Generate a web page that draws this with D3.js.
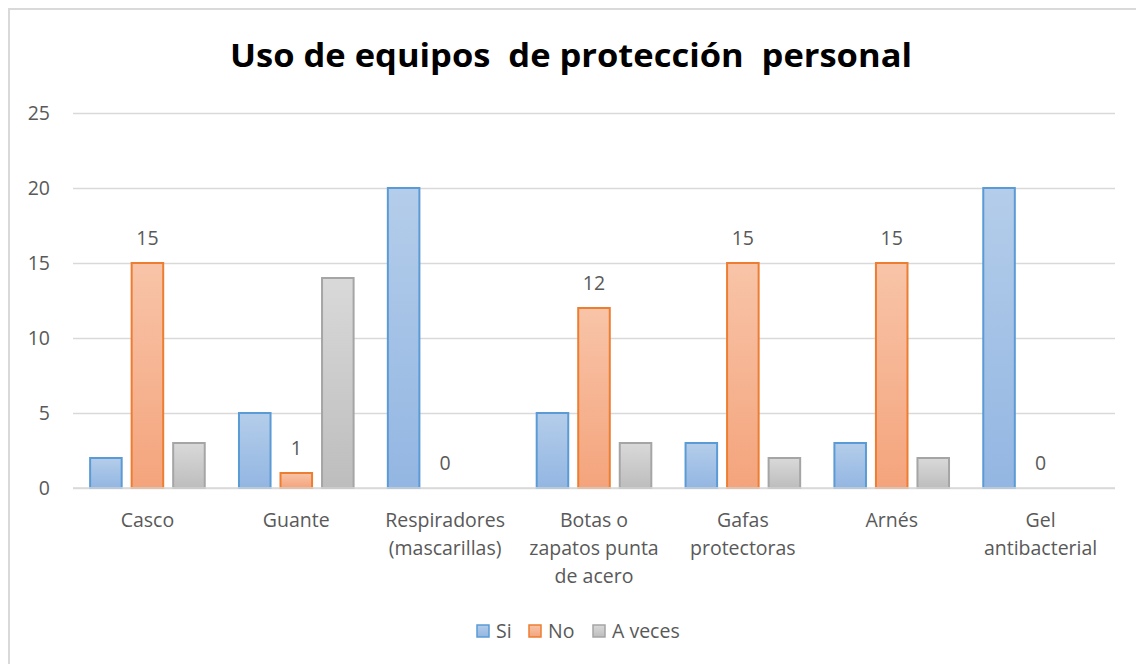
<!doctype html>
<html>
<head>
<meta charset="utf-8">
<style>
  body { margin: 0; background: #fff; }
  svg text { font-family: "Open Sans", "Noto Sans", sans-serif; }
</style>
</head>
<body>
<svg id="chart" width="1136" height="664"></svg>
<script src="https://cdn.jsdelivr.net/npm/d3@7"></script>
<script>
const categories = [
  ["Casco"],
  ["Guante"],
  ["Respiradores", "(mascarillas)"],
  ["Botas o", "zapatos punta", "de acero"],
  ["Gafas", "protectoras"],
  ["Arnés"],
  ["Gel", "antibacterial"]
];
const seriesNames = ["Si", "No", "A veces"];
const si = [2, 5, 20, 5, 3, 3, 20];
const no = [15, 1, 0, 12, 15, 15, 0];
const aVeces = [3, 14, 0, 3, 2, 2, 0];
const yTicks = [0, 5, 10, 15, 20, 25];

const width = 1136, height = 664;
const margin = { top: 113, right: 21, bottom: 176, left: 73 };
const fontSize = '19.5px';

const svg = d3.select('#chart');

// chart frame (right and bottom edges fall outside the picture)
svg.append('rect')
  .attr('x', 9).attr('y', 9)
  .attr('width', width).attr('height', height)
  .attr('fill', '#fff').attr('stroke', '#d9d9d9').attr('stroke-width', 2);

const colors = [
  { top: '#b4cdea', bottom: '#93b6e2', stroke: '#5b9bd5' },
  { top: '#f8c4a8', bottom: '#f4a47c', stroke: '#ed7d31' },
  { top: '#d9d9d9', bottom: '#bdbdbd', stroke: '#a5a5a5' }
];

const defs = svg.append('defs');
colors.forEach((c, i) => {
  const g = defs.append('linearGradient')
    .attr('id', 'grad' + i)
    .attr('x1', 0).attr('y1', 0).attr('x2', 0).attr('y2', 1);
  g.append('stop').attr('offset', '0%').attr('stop-color', c.top);
  g.append('stop').attr('offset', '100%').attr('stop-color', c.bottom);
});

const x0 = d3.scaleBand()
  .domain(d3.range(categories.length))
  .range([margin.left, width - margin.right])
  .paddingInner(0.23)
  .paddingOuter(0.115);

const x1 = d3.scaleBand()
  .domain(d3.range(seriesNames.length))
  .range([0, x0.bandwidth()])
  .paddingInner(0.24);

const y = d3.scaleLinear()
  .domain([0, 25])
  .range([height - margin.bottom, margin.top]);

// gridlines + y labels
const yAxis = d3.axisLeft(y)
  .tickValues(yTicks)
  .tickSize(-(width - margin.left - margin.right))
  .tickPadding(23);

const gy = svg.append('g')
  .attr('transform', `translate(${margin.left},0)`)
  .call(yAxis);
gy.select('.domain').remove();
gy.selectAll('.tick line').attr('stroke', '#d9d9d9').attr('stroke-width', 1.5);
gy.selectAll('.tick text')
  .attr('fill', '#595959')
  .style('font-size', fontSize);

// bars
const values = [si, no, aVeces];
const seriesG = svg.append('g').selectAll('g')
  .data(values)
  .join('g')
  .attr('fill', (d, i) => `url(#grad${i})`)
  .attr('stroke', (d, i) => colors[i].stroke)
  .attr('stroke-width', 2);

seriesG.each(function (vals, s) {
  d3.select(this).selectAll('rect')
    .data(vals.map((v, ci) => ({ v, ci })).filter(d => d.v > 0))
    .join('rect')
    .attr('x', d => x0(d.ci) + x1(s))
    .attr('y', d => y(d.v))
    .attr('width', x1.bandwidth())
    .attr('height', d => y(0) - y(d.v));
});

// x axis line
svg.append('line')
  .attr('x1', margin.left).attr('x2', width - margin.right)
  .attr('y1', y(0)).attr('y2', y(0))
  .attr('stroke', '#d9d9d9').attr('stroke-width', 1.5);

// data labels for "No"
svg.append('g').selectAll('text')
  .data(no)
  .join('text')
  .attr('x', (d, i) => x0(i) + x1(1) + x1.bandwidth() / 2)
  .attr('y', d => y(d) - 18)
  .attr('text-anchor', 'middle')
  .attr('fill', '#595959')
  .style('font-size', fontSize)
  .text(d => d);

// category labels
const catG = svg.append('g').selectAll('text')
  .data(categories)
  .join('text')
  .attr('x', (d, i) => x0(i) + x0.bandwidth() / 2)
  .attr('y', y(0) + 39)
  .attr('text-anchor', 'middle')
  .attr('fill', '#595959')
  .style('font-size', fontSize);
catG.selectAll('tspan')
  .data(d => d)
  .join('tspan')
  .attr('x', function () { return d3.select(this.parentNode).attr('x'); })
  .attr('dy', (d, i) => i === 0 ? 0 : 28)
  .text(d => d);

// title
svg.append('text')
  .attr('x', 230)
  .attr('y', 67)
  .attr('textLength', 682)
  .attr('lengthAdjust', 'spacingAndGlyphs')
  .attr('fill', '#000')
  .style('font-size', '33px')
  .style('font-weight', 'bold')
  .style('white-space', 'pre')
  .text('Uso de equipos  de protección  personal');

// legend
const legendX = [477, 529, 593];
const lg = svg.append('g').selectAll('g')
  .data(seriesNames)
  .join('g')
  .attr('transform', (d, i) => `translate(${legendX[i]},625)`);
lg.append('rect')
  .attr('width', 12).attr('height', 12)
  .attr('fill', (d, i) => `url(#grad${i})`)
  .attr('stroke', (d, i) => colors[i].stroke)
  .attr('stroke-width', 1.5);
lg.append('text')
  .attr('x', 19).attr('y', 13)
  .attr('fill', '#595959')
  .style('font-size', fontSize)
  .text(d => d);
</script>
</body>
</html>
